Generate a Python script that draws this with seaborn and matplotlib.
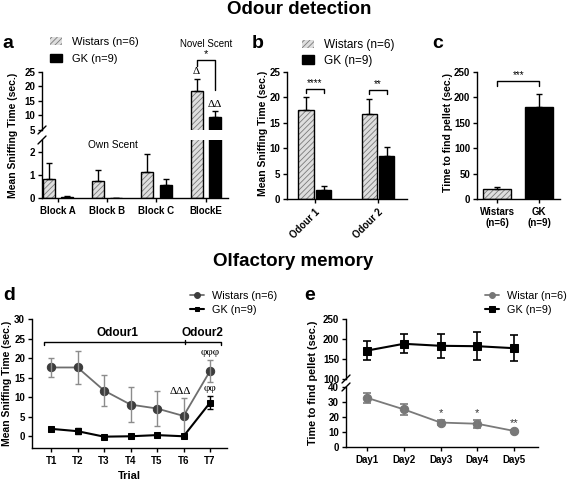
import numpy as np
import pandas as pd
import matplotlib
matplotlib.use("Agg")
import matplotlib.pyplot as plt
import seaborn as sns
from matplotlib.patches import Patch, Rectangle

# ---- values ----
W_LAB = "Wistars (n=6)"
GK_LAB = "GK (n=9)"

# a - sniffing time per block (own scent A-C, novel scent E)
blocks = ["Block A", "Block B", "Block C", "BlockE"]
a_wistar = [0.82, 0.74, 1.14, 18.6]
a_wistar_sem = [0.70, 0.48, 0.76, 3.9]
a_gk = [0.03, 0.0, 0.57, 9.4]
a_gk_sem = [0.05, 0.0, 0.23, 2.3]

# b - odour 1 / odour 2
odours = ["Odour 1", "Odour 2"]
b_wistar = [17.5, 16.7]
b_wistar_sem = [2.5, 2.9]
b_gk = [1.8, 8.5]
b_gk_sem = [0.8, 1.7]

# c - buried pellet
c_groups = ["Wistars\n(n=6)", "GK\n(n=9)"]
c_time = [19.6, 180.5]
c_sem = [3.6, 26.5]

# d - habituation / dishabituation trials
trials = ["T1", "T2", "T3", "T4", "T5", "T6", "T7"]
d_wistar = [17.6, 17.6, 11.7, 8.1, 7.1, 5.2, 16.7]
d_wistar_sem = [2.5, 4.2, 3.9, 4.4, 4.4, 4.5, 2.8]
d_gk = [1.9, 1.3, -0.1, 0.0, 0.3, 0.0, 8.6]
d_gk_sem = [0.6, 0.7, 0.2, 0.2, 0.2, 0.2, 1.6]

# e - pellet over days
days = ["Day1", "Day2", "Day3", "Day4", "Day5"]
e_wistar = [32.8, 25.1, 16.3, 15.5, 10.7]
e_wistar_sem = [3.4, 3.8, 1.9, 2.6, 0.8]
e_gk = [171, 188, 183, 182, 177]
e_gk_sem = [23, 24, 30, 35, 33]

sns.set_theme(style="ticks")
plt.rcParams["font.family"] = ["Liberation Sans", "DejaVu Sans"]
plt.rcParams.update({
    "axes.linewidth": 1.0, "axes.edgecolor": "black", "text.color": "black",
    "axes.labelcolor": "black", "xtick.color": "black", "ytick.color": "black",
    "xtick.major.width": 1.0, "ytick.major.width": 1.0,
    "xtick.major.size": 3, "ytick.major.size": 3,
    "xtick.labelsize": 7, "ytick.labelsize": 7,
    "xtick.major.pad": 2.5, "ytick.major.pad": 2,
    "hatch.linewidth": 0.6,
})

FW, FH = 567, 482
fig = plt.figure(figsize=(FW / 100, FH / 100), dpi=100)


def px_axes(x0, y0, x1, y1):
    return fig.add_axes([x0 / FW, 1 - y1 / FH, (x1 - x0) / FW, (y1 - y0) / FH])


def fig_text(x, y, s, **kw):
    fig.text(x / FW, 1 - y / FH, s, **kw)


def bold_ticks(ax):
    for t in ax.get_xticklabels() + ax.get_yticklabels():
        t.set_fontweight("bold")


PAL = {W_LAB: "#dedede", GK_LAB: "black"}


def hatch_outline(ax, bars):
    # grey hatch inside, black outline on top
    for p in bars:
        p.set_hatch("//////")
        p.set_edgecolor("#7a7a7a")
        p.set_linewidth(0)
        ax.add_patch(Rectangle(p.get_xy(), p.get_width(), p.get_height(),
                               fill=False, edgecolor="black", linewidth=1.0))


def grouped_bars(ax, cats, w_vals, gk_vals, width, gap):
    df = pd.DataFrame({"cat": cats + cats,
                       "group": [W_LAB] * len(cats) + [GK_LAB] * len(cats),
                       "val": w_vals + gk_vals})
    sns.barplot(data=df, x="cat", y="val", hue="group", order=cats,
                hue_order=[W_LAB, GK_LAB], palette=PAL, width=width, gap=gap,
                errorbar=None, edgecolor="black", linewidth=1.0, legend=False, ax=ax)
    bars = list(ax.patches)
    n = len(cats)
    wb, gb = bars[:n], bars[n:2 * n]
    hatch_outline(ax, wb)
    return wb, gb


def centers(bars):
    return [b.get_x() + b.get_width() / 2 for b in bars]


def up_errors(ax, bars, vals, sems, color="black"):
    ax.errorbar(centers(bars), vals, yerr=[np.zeros(len(vals)), sems], fmt="none",
                ecolor=color, elinewidth=1.0, capsize=2.5, capthick=1.0)


def break_mark(ax, top):
    pos = ax.get_position()
    dx = 4 / (pos.width * FW)
    dy = 4 / (pos.height * FH)
    y = 1 if top else 0
    ax.plot([-dx, dx], [y - dy, y + dy], transform=ax.transAxes, color="black",
            lw=1.0, clip_on=False)


def bar_handles():
    return [Patch(facecolor=PAL[W_LAB], edgecolor="#7a7a7a", hatch="//////", linewidth=0),
            Patch(facecolor="black", edgecolor="black")]


# ---------------- a ----------------
ax_a_lo = px_axes(42, 140, 228, 198)
ax_a_hi = px_axes(42, 72, 228, 130)
for ax in (ax_a_lo, ax_a_hi):
    wb, gb = grouped_bars(ax, blocks, a_wistar, a_gk, 0.74, 0.35)
    up_errors(ax, wb, a_wistar, a_wistar_sem)
    up_errors(ax, gb, a_gk, a_gk_sem)
    ax.set_xlim(-0.32, 3.45)
    ax.set_xlabel("")
    ax.set_ylabel("")
ax_a_lo.set_ylim(0, 2.5)
ax_a_lo.set_yticks([0, 1, 2])
ax_a_hi.set_ylim(5, 25)
ax_a_hi.set_yticks([5, 10, 15, 20, 25])
ax_a_hi.tick_params(axis="x", bottom=False, labelbottom=False)
sns.despine(ax=ax_a_lo)
sns.despine(ax=ax_a_hi, bottom=True)
bold_ticks(ax_a_lo)
bold_ticks(ax_a_hi)
break_mark(ax_a_lo, True)
break_mark(ax_a_hi, False)

xw, xg = centers(wb)[3], centers(gb)[3]
ax_a_hi.text(xw, 23.5, "Δ", ha="center", va="bottom", fontsize=8, family="Liberation Serif")
ax_a_hi.text(xg, 12.3, "ΔΔ", ha="center", va="bottom", fontsize=8, family="Liberation Serif")
ax_a_hi.plot([xw, xw, xg, xg], [27.2, 29.3, 29.3, 18.9], color="black", lw=1.0, clip_on=False)
ax_a_hi.text((xw + xg) / 2, 31.2, "*", ha="center", va="center", fontsize=8)
ax_a_hi.text(3.0, 34.8, "Novel Scent", ha="center", va="center", fontsize=7)
ax_a_lo.text(1.12, 2.29, "Own Scent", ha="center", va="center", fontsize=7.3)
fig_text(13, 135, "Mean Sniffing Time (sec.)", rotation=90, ha="center", va="center",
         fontsize=7.5, fontweight="bold")
fig.legend(bar_handles(), [W_LAB, GK_LAB], loc="upper left",
           bbox_to_anchor=(50 / FW, 1 - 37 / FH), frameon=False, fontsize=8,
           handlelength=1.1, handleheight=0.75, handletextpad=0.9,
           labelspacing=0.6, borderpad=0, borderaxespad=0)

# ---------------- b ----------------
ax_b = px_axes(287, 72, 407, 199)
wb, gb = grouped_bars(ax_b, odours, b_wistar, b_gk, 0.56, 0.14)
up_errors(ax_b, wb, b_wistar, b_wistar_sem)
up_errors(ax_b, gb, b_gk, b_gk_sem)
ax_b.set_xlim(-0.44, 1.46)
ax_b.set_ylim(0, 25)
ax_b.set_yticks([0, 5, 10, 15, 20, 25])
ax_b.set_xlabel("")
ax_b.set_ylabel("")
plt.setp(ax_b.get_xticklabels(), rotation=45, ha="right", rotation_mode="anchor")
sns.despine(ax=ax_b)
bold_ticks(ax_b)
for x0, x1, y, s in zip(centers(wb), centers(gb), [21.7, 21.5], ["****", "**"]):
    ax_b.plot([x0, x0, x1, x1], [y - 0.9, y, y, y - 0.9], color="black", lw=1.0, clip_on=False)
    ax_b.text((x0 + x1) / 2, y + 0.2, s, ha="center", va="bottom", fontsize=7)
fig_text(263, 133, "Mean Sniffing Time (sec.)", rotation=90, ha="center", va="center",
         fontsize=7.5, fontweight="bold")
fig.legend(bar_handles(), [W_LAB, GK_LAB], loc="upper left",
           bbox_to_anchor=(302 / FW, 1 - 39 / FH), frameon=False, fontsize=8.5,
           handlelength=1.0, handleheight=0.7, handletextpad=0.9,
           labelspacing=0.3, borderpad=0, borderaxespad=0)

# ---------------- c ----------------
ax_c = px_axes(477, 72, 560, 199)
sns.barplot(x=c_groups, y=c_time, hue=c_groups, palette=["#dedede", "black"], width=0.67,
            edgecolor="black", linewidth=1.0, legend=False, ax=ax_c)
c_bars = list(ax_c.patches)[:2]
hatch_outline(ax_c, c_bars[:1])
up_errors(ax_c, c_bars, c_time, c_sem)
ax_c.set_xlim(-0.49, 1.5)
ax_c.set_ylim(0, 250)
ax_c.set_yticks([0, 50, 100, 150, 200, 250])
sns.despine(ax=ax_c)
bold_ticks(ax_c)
x0, x1 = centers(c_bars)
ax_c.plot([x0, x0, x1, x1], [222, 232, 232, 222], color="black", lw=1.0, clip_on=False)
ax_c.text((x0 + x1) / 2, 234, "***", ha="center", va="bottom", fontsize=7)
fig_text(448, 133, "Time to find pellet (sec.)", rotation=90, ha="center", va="center",
         fontsize=7.5, fontweight="bold")

# ---------------- d ----------------
ax_d = px_axes(32, 319, 227, 448)
xd = np.arange(len(trials))
sns.lineplot(x=trials, y=d_wistar, color="#6e6e6e", marker="o", markersize=6,
             markerfacecolor="#3d3d3d", markeredgecolor="#3d3d3d", linewidth=1.3,
             label=W_LAB, sort=False, ax=ax_d)
ax_d.errorbar(xd, d_wistar, yerr=d_wistar_sem, fmt="none", ecolor="#8c8c8c",
              elinewidth=1.0, capsize=2.5, capthick=1.0)
sns.lineplot(x=trials, y=d_gk, color="black", marker="s", markersize=4,
             markeredgecolor="black", linewidth=1.5, label=GK_LAB, sort=False, ax=ax_d)
ax_d.errorbar(xd, d_gk, yerr=d_gk_sem, fmt="none", ecolor="black",
              elinewidth=1.0, capsize=2.5, capthick=1.0)
ax_d.set_xlim(-0.72, 6.64)
ax_d.set_ylim(-3, 30)
ax_d.set_yticks([0, 5, 10, 15, 20, 25, 30])
ax_d.set_xlabel("Trial", fontsize=8, fontweight="bold", labelpad=4)
ax_d.set_ylabel("")
sns.despine(ax=ax_d)
bold_ticks(ax_d)
ax_d.plot([-0.25, -0.25, 6.4, 6.4], [23.4, 24.2, 24.2, 23.4], color="black", lw=1.0)
ax_d.plot([5.05, 5.05], [24.6, 23.6], color="black", lw=1.0)
ax_d.text(2.5, 26.4, "Odour1", ha="center", va="center", fontsize=8.5, fontweight="bold")
ax_d.text(5.72, 26.4, "Odour2", ha="center", va="center", fontsize=8.5, fontweight="bold")
ax_d.text(4.87, 11.4, "ΔΔΔ", ha="center", va="center", fontsize=8, family="Liberation Serif")
ax_d.text(6.0, 21.4, "φφφ", ha="center", va="center", fontsize=8, family="Liberation Serif")
ax_d.text(6.0, 12.2, "φφ", ha="center", va="center", fontsize=8, family="Liberation Serif")
fig_text(7, 383, "Mean Sniffing Time (sec.)", rotation=90, ha="center", va="center",
         fontsize=7.5, fontweight="bold")
ax_d.legend(loc="upper left", bbox_to_anchor=(190 / FW, 1 - 291 / FH),
            bbox_transform=fig.transFigure, frameon=False, fontsize=7.8,
            handlelength=1.3, handletextpad=0.7, labelspacing=0.35,
            borderpad=0, borderaxespad=0, markerscale=0.7)

# ---------------- e ----------------
ax_e_hi = px_axes(346, 319, 538, 379)
ax_e_lo = px_axes(346, 387, 538, 447)
xe = np.arange(len(days))
sns.lineplot(x=days, y=e_gk, color="black", marker="s", markersize=6,
             markeredgecolor="black", linewidth=1.5, label=GK_LAB, sort=False, ax=ax_e_hi)
ax_e_hi.errorbar(xe, e_gk, yerr=e_gk_sem, fmt="none", ecolor="black",
                 elinewidth=1.2, capsize=3, capthick=1.2)
sns.lineplot(x=days, y=e_wistar, color="#7a7a7a", marker="o", markersize=6,
             markerfacecolor="#777777", markeredgecolor="#777777", linewidth=1.3,
             label="Wistar (n=6)", sort=False, ax=ax_e_lo)
ax_e_lo.errorbar(xe, e_wistar, yerr=e_wistar_sem, fmt="none", ecolor="#7a7a7a",
                 elinewidth=1.2, capsize=3, capthick=1.2)
for ax in (ax_e_hi, ax_e_lo):
    ax.set_xlim(-0.57, 4.65)
    ax.set_xlabel("")
    ax.set_ylabel("")
ax_e_hi.set_ylim(100, 250)
ax_e_hi.set_yticks([100, 150, 200, 250])
ax_e_hi.tick_params(axis="x", bottom=False, labelbottom=False)
ax_e_lo.set_ylim(0, 40)
ax_e_lo.set_yticks([0, 10, 20, 30, 40])
sns.despine(ax=ax_e_hi, bottom=True)
sns.despine(ax=ax_e_lo)
bold_ticks(ax_e_hi)
bold_ticks(ax_e_lo)
break_mark(ax_e_hi, False)
break_mark(ax_e_lo, True)
for i, s, y in [(2, "*", 22.9), (3, "*", 22.9), (4, "**", 16.0)]:
    ax_e_lo.text(xe[i], y, s, ha="center", va="center", fontsize=8, color="#333333")
fig_text(313, 383, "Time to find pellet (sec.)", rotation=90, ha="center", va="center",
         fontsize=7.8, fontweight="bold")
h_lo, l_lo = ax_e_lo.get_legend_handles_labels()
h_hi, l_hi = ax_e_hi.get_legend_handles_labels()
ax_e_lo.get_legend().remove()
ax_e_hi.get_legend().remove()
fig.legend(h_lo + h_hi, l_lo + l_hi, loc="upper left",
           bbox_to_anchor=(485 / FW, 1 - 291 / FH), frameon=False, fontsize=7.8,
           handlelength=1.3, handletextpad=0.7, labelspacing=0.35,
           borderpad=0, borderaxespad=0, markerscale=0.7)

# ---------------- titles & panel letters ----------------
fig_text(299, 10, "Odour detection", ha="center", va="center", fontsize=13.5, fontweight="bold")
fig_text(293, 261, "Olfactory memory", ha="center", va="center", fontsize=13.5, fontweight="bold")
for x, y, s in [(2, 43, "a"), (252, 43, "b"), (432, 43, "c"), (3, 295, "d"), (304, 295, "e")]:
    fig_text(x, y, s, ha="left", va="center", fontsize=14, fontweight="bold")

fig.savefig("out.png", dpi=100)
